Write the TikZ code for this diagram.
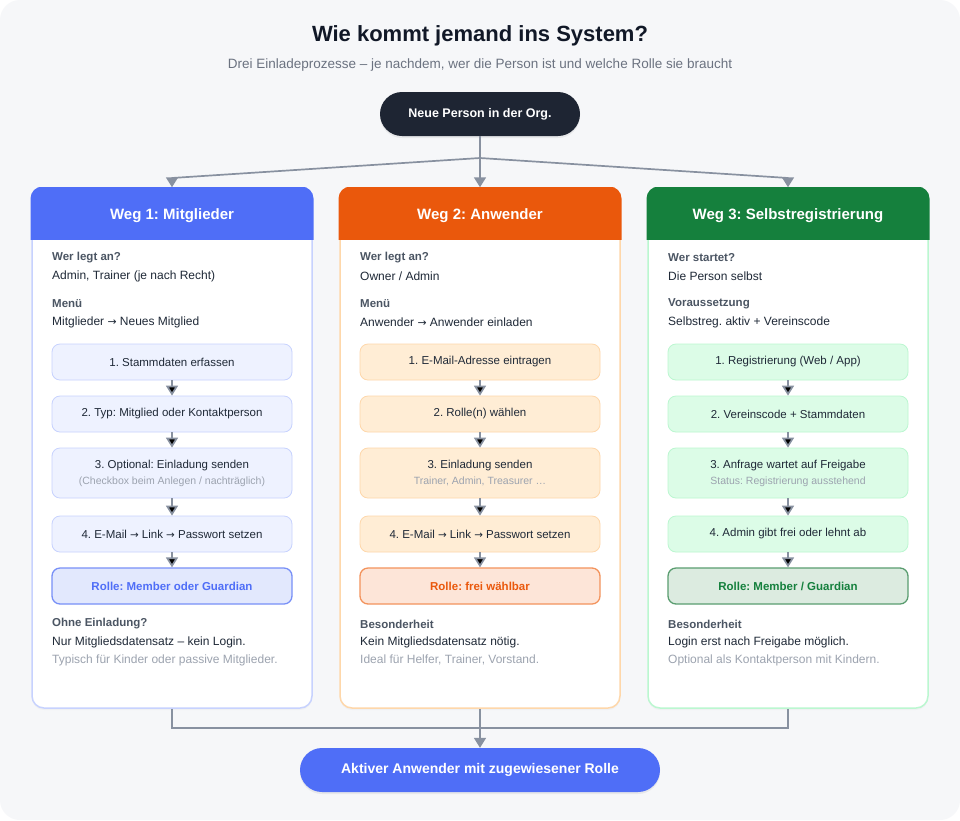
\documentclass[tikz,border=0pt]{standalone}
\usepackage{fontspec}
\setmainfont{Liberation Sans}
\newfontfamily\arrowfont{DejaVu Sans}
\newcommand{\ra}{{\arrowfont\scalebox{.9}{→}}}
\frenchspacing
\usetikzlibrary{arrows.meta,positioning,shadows}

\definecolor{bg}{HTML}{F6F7F9}
\definecolor{titleink}{HTML}{111827}
\definecolor{subgray}{HTML}{6B7280}
\definecolor{ink}{HTML}{1F2937}
\definecolor{labgray}{HTML}{4B5563}
\definecolor{softgray}{HTML}{9CA3AF}
\definecolor{linegray}{HTML}{8891A0}
\definecolor{navy}{HTML}{1E2533}
\definecolor{wblue}{HTML}{4F6EF7}
\definecolor{worange}{HTML}{EA580C}
\definecolor{wgreen}{HTML}{15803D}
\definecolor{b1line}{HTML}{C7D2FE}
\definecolor{b2line}{HTML}{FED7AA}
\definecolor{b3line}{HTML}{BBF7D0}
\definecolor{s1fill}{HTML}{EEF2FF}
\definecolor{s2fill}{HTML}{FFEDD5}
\definecolor{s3fill}{HTML}{DCFCE7}
\definecolor{r1fill}{HTML}{E2E8FD}
\definecolor{r1line}{HTML}{7890F7}
\definecolor{r2fill}{HTML}{FDE5D8}
\definecolor{r2line}{HTML}{F3935C}
\definecolor{r3fill}{HTML}{DCEBE0}
\definecolor{r3line}{HTML}{5A9D70}

\begin{document}
\begin{tikzpicture}[x=1pt,y=-1pt,
          frame/.style={draw,rounded corners=12pt,line width=1.5pt,fill=white,minimum width=280pt,minimum height=520pt,inner sep=0,
                        drop shadow={opacity=.05,shadow xshift=0pt,shadow yshift=-2pt}},
          head/.style={text=white,font=\bfseries\fontsize{15}{18}\selectfont},
          lab/.style={anchor=west,inner sep=0,text=labgray,font=\bfseries\fontsize{11.5}{14}\selectfont},
          val/.style={anchor=west,inner sep=0,text=ink,font=\fontsize{12}{14}\selectfont},
          hint/.style={val,text=softgray},
          stepbox/.style={draw,rounded corners=8pt,line width=.8pt,minimum width=240pt,minimum height=36pt,inner sep=0,align=center,text=ink,font=\fontsize{11.5}{14}\selectfont},
          rolebox/.style={stepbox,line width=1.3pt,font=\bfseries\fontsize{11.5}{14}\selectfont},
          pill/.style={rounded corners=22pt,minimum height=44pt,inner sep=0,text=white,font=\bfseries\fontsize{12.5}{15}\selectfont,
                       drop shadow={opacity=.12,shadow xshift=0pt,shadow yshift=-2pt}},
          link/.style={draw=linegray,line width=1.7pt},
          flow/.style={link,-{Triangle[length=10pt,width=12pt]}}
        ]
        \useasboundingbox (0,0) rectangle (960,820);
        \fill[white] (0,0) rectangle (960,820);
        \fill[bg,rounded corners=20pt] (0,0) rectangle (960,820);

        %title
        \node[font=\bfseries\fontsize{22}{26}\selectfont,text=titleink] (title) at (480,36) {Wie kommt jemand ins System?};
        \node[font=\fontsize{13.5}{16}\selectfont,text=subgray] (sub) at (480,65) {Drei Einladeprozesse – je nachdem, wer die Person ist und welche Rolle sie braucht};

        \node[pill,fill=navy,minimum width=200pt] (start) at (480,114) {Neue Person in der Org.};

        %columns
        \node[frame,draw=b1line] (w1) at (172,448) {};
        \node[frame,draw=b2line] (w2) at (480,448) {};
        \node[frame,draw=b3line] (w3) at (788,448) {};
        \begin{scope}
          \clip ([xshift=-1pt]w1.north west) rectangle ([xshift=1pt,yshift=-52pt]w3.north east);
          \fill[wblue,rounded corners=12pt] ([xshift=-.75pt,yshift=.75pt]w1.north west) rectangle ([xshift=.75pt,yshift=-80pt]w1.north east);
          \fill[worange,rounded corners=12pt] ([xshift=-.75pt,yshift=.75pt]w2.north west) rectangle ([xshift=.75pt,yshift=-80pt]w2.north east);
          \fill[wgreen,rounded corners=12pt] ([xshift=-.75pt,yshift=.75pt]w3.north west) rectangle ([xshift=.75pt,yshift=-80pt]w3.north east);
        \end{scope}
        \node[head] (h1) at (172,216) {Weg 1: Mitglieder};
        \node[head] (h2) at (480,216) {Weg 2: Anwender};
        \node[head] (h3) at (788,216) {Weg 3: Selbstregistrierung};

        %labels
        \node[lab] (l11) at (52,258) {Wer legt an?};
        \node[val] (v11) at (52,276) {Admin, Trainer (je nach Recht)};
        \node[lab] (l12) at (52,304) {Menü};
        \node[val] (v12) at (52,322) {Mitglieder \ra{} Neues Mitglied};
        \node[lab] (l21) at (360,258) {Wer legt an?};
        \node[val] (v21) at (360,276) {Owner / Admin};
        \node[lab] (l22) at (360,304) {Menü};
        \node[val] (v22) at (360,322) {Anwender \ra{} Anwender einladen};
        \node[lab] (l31) at (668,258) {Wer startet?};
        \node[val] (v31) at (668,276) {Die Person selbst};
        \node[lab] (l32) at (668,304) {Voraussetzung};
        \node[val] (v32) at (668,322) {Selbstreg. aktiv + Vereinscode};

        %steps
        \node[stepbox,fill=s1fill,draw=b1line] (s11) at (172,362) {1. Stammdaten erfassen};
        \node[stepbox,fill=s1fill,draw=b1line] (s12) at (172,414) {2. Typ: Mitglied oder Kontaktperson};
        \node[stepbox,fill=s1fill,draw=b1line,minimum height=50pt] (s13) at (172,473) {3. Optional: Einladung senden\\[2pt]{\fontsize{10.5}{12}\selectfont\color{softgray}(Checkbox beim Anlegen / nachträglich)}};
        \node[stepbox,fill=s1fill,draw=b1line] (s14) at (172,534) {4. E-Mail \ra{} Link \ra{} Passwort setzen};
        \node[rolebox,fill=r1fill,draw=r1line,text=wblue] (r1) at (172,586) {Rolle: Member oder Guardian};

        \node[stepbox,fill=s2fill,draw=b2line] (s21) at (480,362) {1. E-Mail-Adresse eintragen};
        \node[stepbox,fill=s2fill,draw=b2line] (s22) at (480,414) {2. Rolle(n) wählen};
        \node[stepbox,fill=s2fill,draw=b2line,minimum height=50pt] (s23) at (480,473) {3. Einladung senden\\[2pt]{\fontsize{10.5}{12}\selectfont\color{softgray}Trainer, Admin, Treasurer …}};
        \node[stepbox,fill=s2fill,draw=b2line] (s24) at (480,534) {4. E-Mail \ra{} Link \ra{} Passwort setzen};
        \node[rolebox,fill=r2fill,draw=r2line,text=worange] (r2) at (480,586) {Rolle: frei wählbar};

        \node[stepbox,fill=s3fill,draw=b3line] (s31) at (788,362) {1. Registrierung (Web / App)};
        \node[stepbox,fill=s3fill,draw=b3line] (s32) at (788,414) {2. Vereinscode + Stammdaten};
        \node[stepbox,fill=s3fill,draw=b3line,minimum height=50pt] (s33) at (788,473) {3. Anfrage wartet auf Freigabe\\[2pt]{\fontsize{10.5}{12}\selectfont\color{softgray}Status: Registrierung ausstehend}};
        \node[stepbox,fill=s3fill,draw=b3line] (s34) at (788,534) {4. Admin gibt frei oder lehnt ab};
        \node[rolebox,fill=r3fill,draw=r3line,text=wgreen] (r3) at (788,586) {Rolle: Member / Guardian};

        \path[flow]
        (s11) edge (s12) (s12) edge (s13) (s13) edge (s14) (s14) edge (r1)
        (s21) edge (s22) (s22) edge (s23) (s23) edge (s24) (s24) edge (r2)
        (s31) edge (s32) (s32) edge (s33) (s33) edge (s34) (s34) edge (r3)
        ;

        %notes
        \node[lab] (n11) at (52,624) {Ohne Einladung?};
        \node[val] (n12) at (52,642) {Nur Mitgliedsdatensatz – kein Login.};
        \node[hint] (n13) at (52,660) {Typisch für Kinder oder passive Mitglieder.};
        \node[lab] (n21) at (360,624) {Besonderheit};
        \node[val] (n22) at (360,642) {Kein Mitgliedsdatensatz nötig.};
        \node[hint] (n23) at (360,660) {Ideal für Helfer, Trainer, Vorstand.};
        \node[lab] (n31) at (668,624) {Besonderheit};
        \node[val] (n32) at (668,642) {Login erst nach Freigabe möglich.};
        \node[hint] (n33) at (668,660) {Optional als Kontaktperson mit Kindern.};

        \node[pill,fill=wblue,minimum width=360pt,font=\bfseries\fontsize{14}{17}\selectfont] (end) at (480,770) {Aktiver Anwender mit zugewiesener Rolle};

        %split and merge
        \coordinate (split) at (480,158);
        \coordinate (t1) at (172,178);
        \coordinate (t3) at (788,178);
        \coordinate (j1) at (172,728);
        \coordinate (j3) at (788,728);
        \draw[flow] (start) -- (w2);
        \draw[flow] (split) -- (t1) -- (w1.north);
        \draw[flow] (split) -- (t3) -- (w3.north);
        \draw[link] (w1.south) -- (j1) -- (j3) -- (w3.south);
        \draw[flow] (w2) -- (end);
    \end{tikzpicture}
\end{document}
